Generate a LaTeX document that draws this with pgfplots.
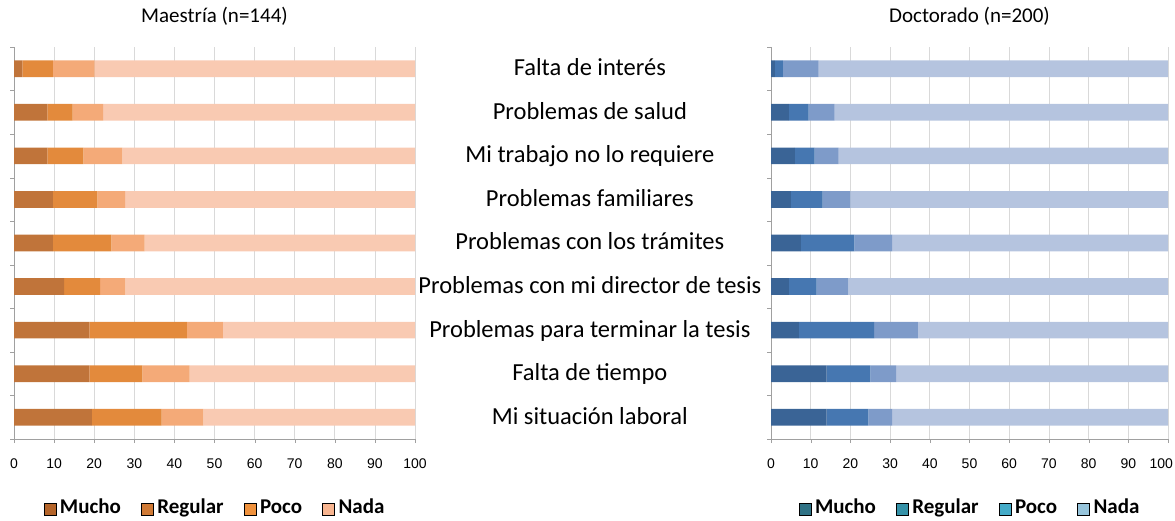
\documentclass[border=0pt]{standalone}
\usepackage{fontspec}
\setmainfont{Carlito}
\newfontfamily\arialfont{Liberation Sans}
\usepackage{pgfplots}
\pgfplotsset{compat=1.18}
\usepackage{pgfplotstable}

\definecolor{mA}{HTML}{C0743A}
\definecolor{mB}{HTML}{E38A3C}
\definecolor{mC}{HTML}{F4AA78}
\definecolor{mD}{HTML}{F9CAB2}
\definecolor{lmA}{HTML}{B5652A}
\definecolor{lmB}{HTML}{D07A35}
\definecolor{lmC}{HTML}{F0923D}
\definecolor{lmD}{HTML}{F8B590}
\definecolor{dA}{HTML}{3A6496}
\definecolor{dB}{HTML}{4677B1}
\definecolor{dC}{HTML}{7E9BC9}
\definecolor{dD}{HTML}{B5C4DF}
\definecolor{ldA}{HTML}{2F7285}
\definecolor{ldB}{HTML}{3592A8}
\definecolor{ldC}{HTML}{44ABC8}
\definecolor{ldD}{HTML}{96C4DB}
\definecolor{gridc}{HTML}{D9D9D9}
\definecolor{axc}{HTML}{A0A0A0}

\pgfplotstableread{
y mucho regular poco nada
0 2.1 7.6 10.4 79.9
1 8.3 6.3 7.6 77.8
2 8.3 9.0 9.7 73.0
3 9.7 11.1 6.9 72.3
4 9.7 14.6 8.3 67.4
5 12.5 9.0 6.3 72.2
6 18.8 24.3 9.0 47.9
7 18.8 13.2 11.8 56.2
8 19.4 17.4 10.4 52.8
}\maestria

\pgfplotstableread{
y mucho regular poco nada
0 1.0 2.0 9.0 88.0
1 4.5 5.0 6.5 84.0
2 6.0 5.0 6.0 83.0
3 5.0 8.0 7.0 80.0
4 7.5 13.5 9.5 69.5
5 4.5 7.0 8.0 80.5
6 7.0 19.0 11.0 63.0
7 14.0 11.0 6.5 68.5
8 14.0 10.5 6.0 69.5
}\doctorado

\tikzset{catlabel/.style={font=\fontsize{24.5}{28}\selectfont, anchor=base}}

\pgfplotsset{
  common/.style={
    xbar stacked,
    scale only axis,
    anchor=south west,
    height=392pt,
    bar width=16.7pt,
    xmin=0, xmax=100,
    ymin=-0.5, ymax=8.5,
    y dir=reverse,
    enlargelimits=false,
    clip=false,
    axis x line*=bottom,
    axis y line*=left,
    axis line style={draw=axc, -},
    xtick={0,10,...,100},
    ytick={-0.5,0.5,...,8.5},
    yticklabels={},
    tick align=outside,
    major tick length=4pt,
    tick style={draw=axc},
    xmajorgrids,
    grid style={draw=gridc, line width=0.8pt},
    /pgf/number format/assume math mode=true,
    xticklabel style={font=\arialfont\fontsize{14}{16}\selectfont, anchor=base, yshift=-25pt},
    title style={at={(0.5,1)}, anchor=base, yshift=19pt, font=\fontsize{21}{24}\selectfont},
    legend image code/.code={\fill[##1] (0pt,-6pt) rectangle (12pt,6pt);},
    legend columns=4,
    legend style={at={(0.5,0)}, anchor=south, yshift=-80pt, draw=none, fill=none,
      inner sep=0pt,
      font=\bfseries\fontsize{21}{24}\selectfont,
      /tikz/every odd column/.append style={column sep=3pt},
      /tikz/every even column/.append style={column sep=19pt},
      nodes={inner sep=1pt, text height=14pt, text depth=4pt}},
  },
}

\begin{document}
\begin{tikzpicture}[x=1pt,y=1pt]
\path[use as bounding box] (0,0) rectangle (1175,520);

\begin{axis}[common, at={(14pt,81pt)}, width=401pt, title={Maestría (n=144)}]
\addplot[fill=mA, draw=none, forget plot] table[x=mucho, y=y]{\maestria};
\addplot[fill=mB, draw=none, forget plot] table[x=regular, y=y]{\maestria};
\addplot[fill=mC, draw=none, forget plot] table[x=poco, y=y]{\maestria};
\addplot[fill=mD, draw=none, forget plot] table[x=nada, y=y]{\maestria};
\addlegendimage{fill=lmA}\addlegendentry{Mucho}
\addlegendimage{fill=lmB}\addlegendentry{Regular}
\addlegendimage{fill=lmC}\addlegendentry{Poco}
\addlegendimage{fill=lmD}\addlegendentry{Nada}
\node[catlabel] at (axis cs:143.6,0.16) {Falta de interés};
\node[catlabel] at (axis cs:143.6,1.16) {Problemas de salud};
\node[catlabel] at (axis cs:143.6,2.16) {Mi trabajo no lo requiere};
\node[catlabel] at (axis cs:143.6,3.16) {Problemas familiares};
\node[catlabel] at (axis cs:143.6,4.16) {Problemas con los trámites};
\node[catlabel] at (axis cs:143.6,5.16) {Problemas con mi director de tesis};
\node[catlabel] at (axis cs:143.6,6.16) {Problemas para terminar la tesis};
\node[catlabel] at (axis cs:143.6,7.16) {Falta de tiempo};
\node[catlabel] at (axis cs:143.6,8.16) {Mi situación laboral};
\end{axis}

\begin{axis}[common, at={(771pt,81pt)}, width=397pt, title={Doctorado (n=200)},
  xticklabels={0,10,20,30,40,50,60,70,80,90,{\makebox[10pt][r]{100}}}]
\addplot[fill=dA, draw=none, forget plot] table[x=mucho, y=y]{\doctorado};
\addplot[fill=dB, draw=none, forget plot] table[x=regular, y=y]{\doctorado};
\addplot[fill=dC, draw=none, forget plot] table[x=poco, y=y]{\doctorado};
\addplot[fill=dD, draw=none, forget plot] table[x=nada, y=y]{\doctorado};
\addlegendimage{fill=ldA}\addlegendentry{Mucho}
\addlegendimage{fill=ldB}\addlegendentry{Regular}
\addlegendimage{fill=ldC}\addlegendentry{Poco}
\addlegendimage{fill=ldD}\addlegendentry{Nada}
\end{axis}
\end{tikzpicture}
\end{document}
